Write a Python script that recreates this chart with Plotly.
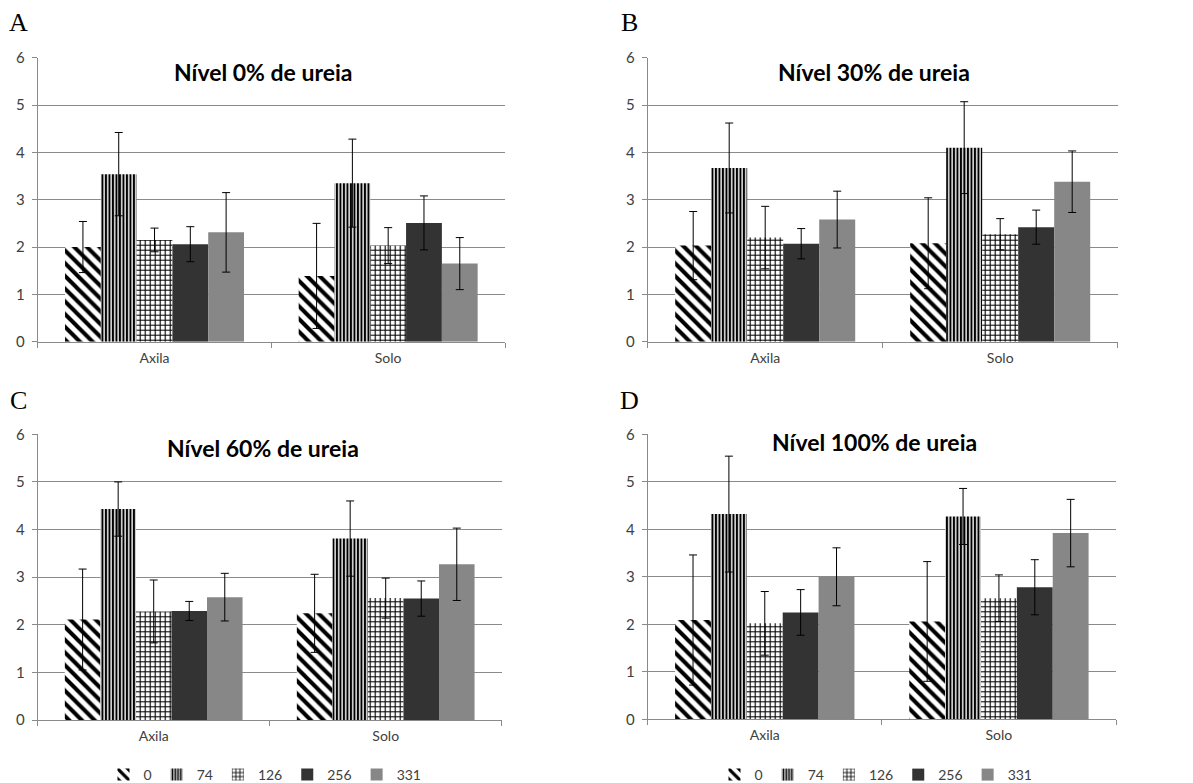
import plotly.graph_objects as go

categories = ["Axila", "Solo"]
series_names = ["0", "74", "126", "256", "331"]

# means per series (rows) and category (cols)
a_means = [[2.00, 1.39], [3.54, 3.35], [2.15, 2.03], [2.06, 2.51], [2.31, 1.65]]
a_errs = [[0.54, 1.11], [0.88, 0.93], [0.25, 0.38], [0.37, 0.57], [0.84, 0.55]]

b_means = [[2.03, 2.08], [3.67, 4.10], [2.20, 2.27], [2.07, 2.42], [2.58, 3.38]]
b_errs = [[0.72, 0.96], [0.95, 0.97], [0.66, 0.33], [0.32, 0.36], [0.60, 0.65]]

c_means = [[2.11, 2.24], [4.43, 3.81], [2.28, 2.56], [2.29, 2.55], [2.58, 3.27]]
c_errs = [[1.06, 0.82], [0.57, 0.79], [0.66, 0.42], [0.20, 0.37], [0.50, 0.76]]

d_means = [[2.09, 2.06], [4.32, 4.27], [2.02, 2.55], [2.25, 2.78], [3.00, 3.92]]
d_errs = [[1.37, 1.26], [1.22, 0.59], [0.67, 0.49], [0.48, 0.58], [0.61, 0.71]]

panel_titles = ["Nível 0% de ureia", "Nível 30% de ureia", "Nível 60% de ureia", "Nível 100% de ureia"]
panel_letters = ["A", "B", "C", "D"]
y_ticks = [0, 1, 2, 3, 4, 5, 6]

W, H = 1193, 783
FONT = "Lato, 'Open Sans', sans-serif"

styles = [
    dict(color="white", pattern=dict(shape="\\", fgcolor="black", bgcolor="white", size=9, solidity=0.45, fgopacity=1)),
    dict(color="white", pattern=dict(shape="|", fgcolor="black", bgcolor="white", size=3.5, solidity=0.6, fgopacity=1)),
    dict(color="white", pattern=dict(shape="+", fgcolor="black", bgcolor="white", size=5, solidity=0.4, fgopacity=1)),
    dict(color="#333333"),
    dict(color="#878787"),
]

# plot-area pixel boxes: (x0, x1, ytop, ybottom)
boxes = [
    (37.7, 505.0, 57.7, 341.7),
    (647.7, 1117.7, 57.7, 341.7),
    (37.7, 501.7, 434.3, 720.0),
    (647.7, 1116.0, 434.3, 719.3),
]
title_pos = [(263, 72), (874, 72), (263, 448), (874, 442)]
letter_pos = [(18, 23), (630, 23), (18, 401), (630, 401)]

panels = [(a_means, a_errs), (b_means, b_errs), (c_means, c_errs), (d_means, d_errs)]
legends = [None, None, "legend", "legend2"]

fig = go.Figure()
layout = dict(
    template="none",
    width=W, height=H, margin=dict(l=0, r=0, t=0, b=0, pad=0, autoexpand=False),
    paper_bgcolor="white", plot_bgcolor="white",
    barmode="group", bargap=0.234, bargroupgap=0,
    font=dict(family=FONT, color="#404040", size=14),
)
annotations = []

for p, (means, errs) in enumerate(panels):
    sfx = "" if p == 0 else str(p + 1)
    for s, name in enumerate(series_names):
        lg = legends[p]
        tr = go.Bar(
            x=categories, y=means[s], name=name,
            xaxis="x" + sfx, yaxis="y" + sfx,
            marker=dict(line=dict(width=0), **styles[s]),
            error_y=dict(type="data", array=errs[s], visible=True,
                         color="black", thickness=1, width=4),
            showlegend=lg is not None,
        )
        if lg is not None:
            tr.legend = lg
        fig.add_trace(tr)
    x0, x1, yt, yb = boxes[p]
    layout["xaxis" + sfx] = dict(
        domain=[x0 / W, x1 / W], anchor="y" + sfx, automargin=False,
        showline=True, linecolor="#8a8a8a", linewidth=1,
        ticks="outside", tickson="boundaries", ticklen=5, tickcolor="#8a8a8a",
        showgrid=False, zeroline=False, tickfont=dict(size=14, color="#404040"),
        ticklabelstandoff=3,
    )
    layout["yaxis" + sfx] = dict(
        domain=[1 - yb / H, 1 - yt / H], anchor="x" + sfx, automargin=False,
        range=[0, 6], tickvals=y_ticks,
        showline=True, linecolor="#8a8a8a", linewidth=1,
        ticks="outside", ticklen=5, tickcolor="#8a8a8a",
        showgrid=True, gridcolor="#8a8a8a", gridwidth=1, zeroline=False,
        tickfont=dict(size=15, color="#404040"), ticklabelstandoff=4,
    )
    tx, ty = title_pos[p]
    annotations.append(dict(
        text="<b>" + panel_titles[p] + "</b>", x=tx / W, y=1 - ty / H,
        xref="paper", yref="paper", xanchor="center", yanchor="middle",
        showarrow=False, font=dict(family=FONT, size=23, color="black"),
    ))
    lx, ly = letter_pos[p]
    annotations.append(dict(
        text=panel_letters[p], x=lx / W, y=1 - ly / H,
        xref="paper", yref="paper", xanchor="center", yanchor="middle",
        showarrow=False, font=dict(family="'Liberation Serif', serif", size=26, color="black"),
    ))

layout["annotations"] = annotations
layout["legend"] = dict(orientation="h", x=265 / W, y=1 - 775 / H, xanchor="center", yanchor="middle",
                        font=dict(size=14, color="#404040"), bgcolor="rgba(0,0,0,0)",
                        itemwidth=30, tracegroupgap=0, borderwidth=0)
layout["legend2"] = dict(orientation="h", x=876 / W, y=1 - 775 / H, xanchor="center", yanchor="middle",
                         font=dict(size=14, color="#404040"), bgcolor="rgba(0,0,0,0)",
                         itemwidth=30, tracegroupgap=0, borderwidth=0)
fig.update_layout(**layout)
fig.write_html("out.html", config={"displayModeBar": False},
               post_script="document.body.style.margin='0px';document.body.style.padding='0px';")
